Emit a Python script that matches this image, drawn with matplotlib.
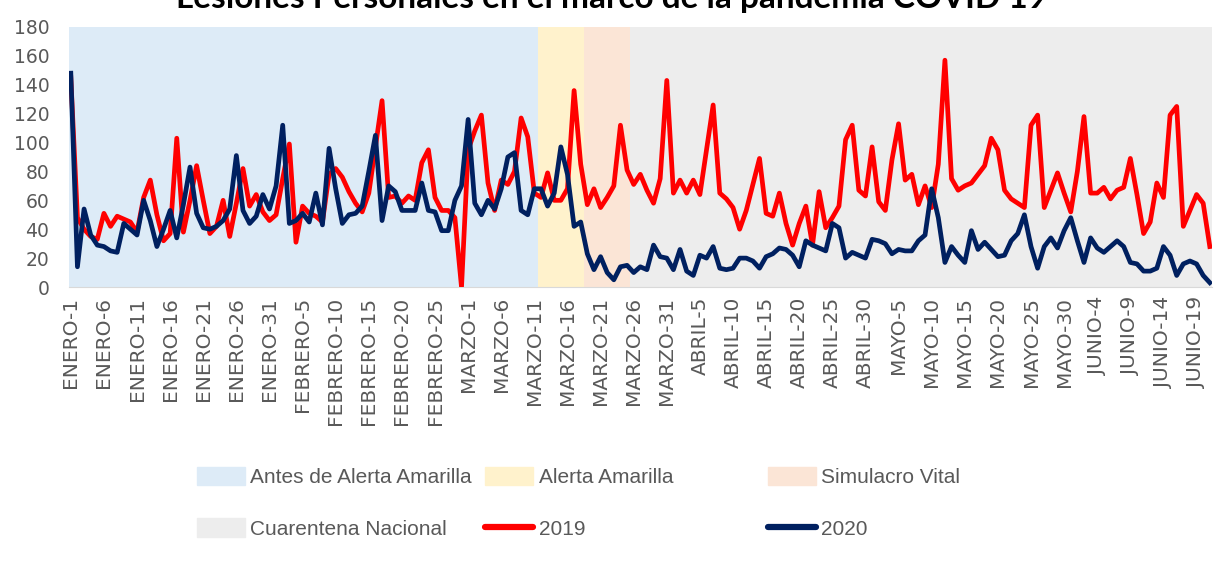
import matplotlib
matplotlib.use("Agg")
import matplotlib.pyplot as plt
from matplotlib.patches import Patch
from matplotlib.lines import Line2D

# days Jan 1 - Jun 21 (2020 calendar)
meses = ["ENERO", "FEBRERO", "MARZO", "ABRIL", "MAYO", "JUNIO"]
dias_mes = [31, 29, 31, 30, 31, 21]

# lesiones personales 2019
v2019 = [145, 48, 40, 35, 33, 51, 42, 49, 47, 45,
         38, 62, 74, 50, 32, 37, 103, 38, 60, 84,
         60, 37, 42, 60, 35, 58, 82, 56, 64, 52,
         46, 50, 75, 99, 31, 56, 51, 49, 45, 78,
         82, 76, 66, 58, 52, 65, 97, 129, 62, 63,
         58, 63, 60, 86, 95, 62, 53, 53, 48, 0,
         95, 108, 119, 72, 53, 74, 71, 80, 117, 104,
         65, 62, 79, 60, 60, 68, 136, 85, 57, 68,
         55, 62, 70, 112, 81, 71, 78, 67, 58, 75,
         143, 65, 74, 65, 74, 64, 95, 126, 65, 61,
         55, 40, 53, 71, 89, 51, 49, 65, 44, 29,
         44, 56, 29, 66, 41, 48, 56, 102, 112, 67,
         63, 97, 59, 53, 88, 113, 74, 78, 57, 70,
         55, 85, 157, 75, 67, 70, 72, 78, 84, 103,
         95, 67, 61, 58, 55, 112, 119, 55, 67, 79,
         65, 52, 80, 118, 65, 65, 69, 61, 67, 69,
         89, 64, 37, 45, 72, 62, 119, 125, 42, 53,
         64, 58, 28]

# lesiones personales 2020
v2020 = [148, 14, 54, 36, 29, 28, 25, 24, 44, 40,
         36, 60, 46, 28, 40, 53, 34, 57, 83, 51,
         41, 40, 42, 46, 54, 91, 53, 44, 49, 64,
         54, 70, 112, 44, 46, 51, 45, 65, 43, 96,
         68, 44, 50, 51, 56, 80, 105, 46, 70, 66,
         53, 53, 53, 72, 53, 52, 39, 39, 60, 70,
         116, 58, 50, 60, 54, 68, 90, 93, 53, 50,
         68, 68, 56, 65, 97, 78, 42, 45, 23, 12,
         21, 10, 5, 14, 15, 10, 14, 12, 29, 21,
         20, 12, 26, 11, 8, 22, 20, 28, 13, 12,
         13, 20, 20, 18, 13, 21, 23, 27, 26, 22,
         14, 32, 29, 27, 25, 44, 41, 20, 24, 22,
         20, 33, 32, 30, 23, 26, 25, 25, 32, 36,
         68, 48, 17, 28, 22, 17, 39, 26, 31, 26,
         21, 22, 32, 37, 50, 28, 13, 28, 34, 27,
         39, 48, 32, 17, 34, 27, 24, 28, 32, 28,
         17, 16, 11, 11, 13, 28, 22, 8, 16, 18,
         16, 8, 3]

# periods (index of first day, index of last day)
periodos = ["Antes de Alerta Amarilla", "Alerta Amarilla", "Simulacro Vital", "Cuarentena Nacional"]
periodo_ini = [0, 71, 78, 85]
periodo_fin = [70, 77, 84, 172]
colores_periodo = ["#DDEBF7", "#FFF2CC", "#FBE5D6", "#EDEDED"]

etiquetas = []
for m, n in zip(meses, dias_mes):
    for d in range(1, n + 1):
        etiquetas.append(m + "-" + str(d))

gris = "#595959"
x = list(range(len(v2019)))

fig = plt.figure(figsize=(12.29, 5.61), dpi=100)
ax = fig.add_axes([0.056, 0.4884, 0.930, 0.4635])

for ini, fin, c in zip(periodo_ini, periodo_fin, colores_periodo):
    ax.axvspan(ini - 0.5, fin + 0.5, color=c, lw=0, zorder=0)

ax.plot(x, v2019, color="#FF0000", lw=3.4, solid_joinstyle="round", zorder=3)
ax.plot(x, v2020, color="#002060", lw=3.4, solid_joinstyle="round", zorder=4)

ax.set_xlim(-0.3, len(x) - 1 + 0.3)
ax.set_ylim(0, 180)
ax.set_yticks(range(0, 181, 20))
ax.set_xticks(x[::5])
ax.set_xticklabels(etiquetas[::5], rotation=90, fontsize=14.5, color=gris)
ax.tick_params(axis="y", labelsize=13.5, labelcolor=gris, length=0, pad=14)
ax.tick_params(axis="x", length=0, pad=7)
for s in ["top", "right", "left"]:
    ax.spines[s].set_visible(False)
ax.spines["bottom"].set_color("#D9D9D9")

fig.text(0.498, 0.986, "Lesiones Personales en el marco de la pandemia COVID 19",
         ha="center", va="baseline", fontsize=24, fontweight="bold",
         family=["Lato", "DejaVu Sans"])

# legend laid out as three fixed columns
col1 = [Patch(color=colores_periodo[0]), Patch(color=colores_periodo[3])]
col2 = [Patch(color=colores_periodo[1]), Line2D([], [], color="#FF0000", lw=4.5, solid_capstyle="round")]
col3 = [Patch(color=colores_periodo[2]), Line2D([], [], color="#002060", lw=4.5, solid_capstyle="round")]
lab1 = [periodos[0], periodos[3]]
lab2 = [periodos[1], "2019"]
lab3 = [periodos[2], "2020"]
for h, l, xa in [(col1, lab1, 0.160), (col2, lab2, 0.395), (col3, lab3, 0.625)]:
    fig.legend(h, l, loc="upper left", bbox_to_anchor=(xa, 0.168), frameon=False,
               prop={"family": "Liberation Sans", "size": 15}, labelcolor=gris,
               handlelength=2.3, handleheight=1.0, handletextpad=0.25,
               labelspacing=1.5, borderpad=0, borderaxespad=0)

fig.savefig("out.png", dpi=100)
